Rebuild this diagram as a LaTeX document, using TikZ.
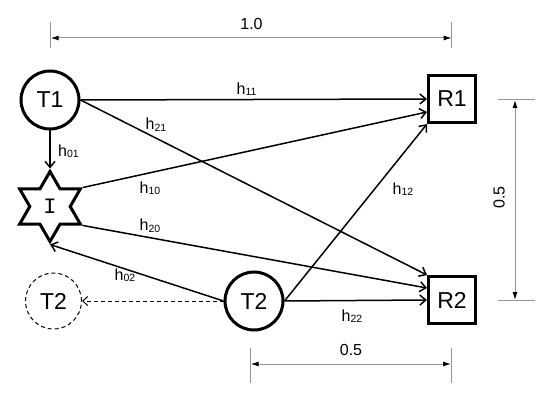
\documentclass[tikz,border=0pt]{standalone}
\usepackage{fontspec}
\setmainfont{Liberation Sans}
\newfontfamily\relayfont{Liberation Mono}
\usetikzlibrary{arrows.meta,shapes.geometric}
\definecolor{dimgray}{RGB}{150,150,150}
\newcommand\hsub[1]{h\raisebox{-1.5pt}{\fontsize{10.5}{12}\selectfont #1}}
\begin{document}
\begin{tikzpicture}[x=1pt,y=-1pt,
  every node/.style={font=\fontsize{16}{18}\selectfont},
  trnode/.style={circle,draw,line width=3pt,minimum size=58pt,inner sep=0pt,font=\fontsize{23}{26}\selectfont},
  ghost/.style={circle,draw,dash pattern=on 4pt off 3pt,line width=1pt,minimum size=56pt,inner sep=0pt,font=\fontsize{23}{26}\selectfont},
  rxnode/.style={rectangle,draw,line width=3pt,minimum size=47pt,inner sep=0pt,font=\fontsize{23}{26}\selectfont},
  relay/.style={star,star points=6,star point ratio=1.732,draw,line width=3pt,minimum size=70pt,inner sep=0pt,font=\relayfont\fontsize{22}{24}\selectfont},
  link/.style={line width=1.5pt,-{Straight Barb[length=6pt,width=10pt]}},
  ghostlink/.style={line width=1pt,dash pattern=on 4pt off 3pt,-{Straight Barb[length=5pt,width=9pt]}},
  dimline/.style={draw=dimgray,line width=1pt,{Latex[black,length=8pt,width=5pt]}-{Latex[black,length=8pt,width=5pt]}},
  extline/.style={draw=dimgray,line width=1pt},
  lab/.style={inner sep=0pt},
  dimlab/.style={inner sep=0pt,font=\fontsize{16}{18}\selectfont}
]
\useasboundingbox (0,0) rectangle (553,403);

% nodes
\node[trnode] (T1) at (50,100) {T1};
\node[relay] (I) at (50,206.5) {I};
\node[ghost] (T2g) at (53.5,301) {T2};
\node[trnode] (T2) at (254,301) {T2};
\node[rxnode] (R1) at (452,99) {R1};
\node[rxnode] (R2) at (452,300) {R2};

% links
\draw[link] (T1.east) -- (R1.west);
\draw[link] (T1.east) -- (R2.north west);
\draw[link] (T1.south) -- (I.outer point 1);
\draw[link] (I.outer point 6) -- ([yshift=-13pt]R1.west);
\draw[link] (I.outer point 5) -- ([yshift=12pt]R2.west);
\draw[link] (T2.west) -- (I.outer point 4);
\draw[link] (T2.east) -- (R1.south west);
\draw[link] (T2.east) -- (R2.west);
\draw[ghostlink] (T2.west) -- (T2g.east);

% labels
\node[lab] (l11) at (246.5,89) {\hsub{11}};
\node[lab] (l21) at (156,124.5) {\hsub{21}};
\node[lab] (l01) at (68.5,151.5) {\hsub{01}};
\node[lab] (l10) at (150,188.5) {\hsub{10}};
\node[lab] (l20) at (150,226) {\hsub{20}};
\node[lab] (l02) at (125,275.5) {\hsub{02}};
\node[lab] (l12) at (403,189) {\hsub{12}};
\node[lab] (l22) at (352,316) {\hsub{22}};

% dimensions
\coordinate (da) at (50.7,38);
\coordinate (db) at (451.7,38);
\draw[extline] (50.7,22) -- (50.7,48);
\draw[extline] (451.7,22) -- (451.7,48);
\draw[dimline] (da) -- (db);
\node[dimlab] (dl1) at (251.5,24) {1.0};

\coordinate (dc) at (515,100);
\coordinate (dd) at (515,300);
\draw[extline] (498,100) -- (535,100);
\draw[extline] (498,300) -- (535,300);
\draw[dimline] (dc) -- (dd);
\node[dimlab,rotate=90] (dl2) at (499,197.5) {0.5};

\coordinate (de) at (250.7,364);
\coordinate (df) at (451,364);
\draw[extline] (250.7,348) -- (250.7,383);
\draw[extline] (451,348) -- (451,383);
\draw[dimline] (de) -- (df);
\node[dimlab] (dl3) at (351,349.5) {0.5};
\end{tikzpicture}
\end{document}
